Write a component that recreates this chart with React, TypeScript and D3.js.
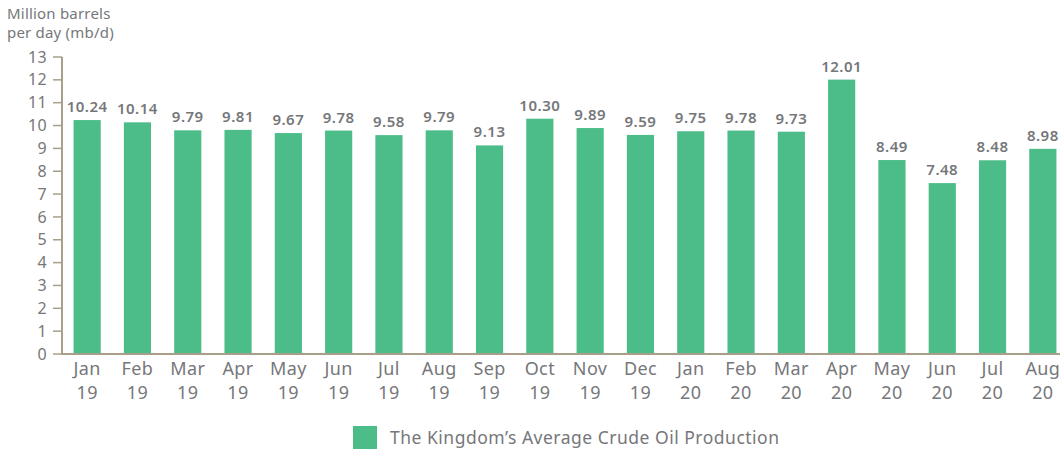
import React from "react";
import * as d3 from "d3";

const months = ["Jan","Feb","Mar","Apr","May","Jun","Jul","Aug","Sep","Oct","Nov","Dec","Jan","Feb","Mar","Apr","May","Jun","Jul","Aug"];
const years = ["19","19","19","19","19","19","19","19","19","19","19","19","20","20","20","20","20","20","20","20"];
const values = [10.24,10.14,9.79,9.81,9.67,9.78,9.58,9.79,9.13,10.30,9.89,9.59,9.75,9.78,9.73,12.01,8.49,7.48,8.48,8.98];
const yTicks = [0,1,2,3,4,5,6,7,8,9,10,11,12,13];
const seriesName = "The Kingdom\u2019s Average Crude Oil Production";
const axisTitle = ["Million barrels", "per day (mb/d)"];

const W = 1062, H = 450;
const FONT = "'Noto Sans', 'DejaVu Sans', sans-serif";
const BAR = "#4cbc88";
const AXIS = "#a79f8a";
const TXT = "#76777a";

export default function App() {
  const x = d3.scaleBand<number>().domain(d3.range(values.length)).range([62, 1068]).paddingInner(0.46).paddingOuter(0.23);
  const y = d3.scaleLinear().domain([0, 13]).range([354, 57]);
  return (
    <svg width={W} height={H} style={{ position: "absolute", left: 0, top: 0 }} fontFamily={FONT}>
      {axisTitle.map((t, i) => (
        <text key={i} x={7} y={19 + i * 19} fontSize={15} letterSpacing={0.2} fill={TXT}>{t}</text>
      ))}
      {yTicks.map(t => (
        <g key={t}>
          <line x1={53} x2={62} y1={y(t)} y2={y(t)} stroke={AXIS} strokeWidth={1.5} />
          <text x={47} y={y(t)} dy="0.35em" textAnchor="end" fontSize={16} letterSpacing={0.4} fill={TXT}>{t}</text>
        </g>
      ))}
      {values.map((v, i) => (
        <g key={i}>
          <rect x={x(i)} y={y(v)} width={x.bandwidth()} height={y(0) - y(v)} fill={BAR} />
          <text x={x(i)! + x.bandwidth() / 2} y={y(v) - 8} textAnchor="middle" fontSize={15} fontWeight={600} letterSpacing={0.5} fill={TXT}>{v.toFixed(2)}</text>
          <text x={x(i)! + x.bandwidth() / 2} y={375} textAnchor="middle" fontSize={18} letterSpacing={0.4} fill={TXT}>{months[i]}</text>
          <text x={x(i)! + x.bandwidth() / 2} y={399} textAnchor="middle" fontSize={18} letterSpacing={0.4} fill={TXT}>{years[i]}</text>
        </g>
      ))}
      <line x1={62} x2={62} y1={y(13)} y2={y(0) + 1} stroke={AXIS} strokeWidth={2} />
      <line x1={61} x2={1060} y1={y(0)} y2={y(0)} stroke={AXIS} strokeWidth={2} />
      <rect x={353} y={426} width={24} height={23} fill={BAR} />
      <text x={390} y={444} fontSize={17.5} letterSpacing={0.5} fill={TXT}>{seriesName}</text>
    </svg>
  );
}
